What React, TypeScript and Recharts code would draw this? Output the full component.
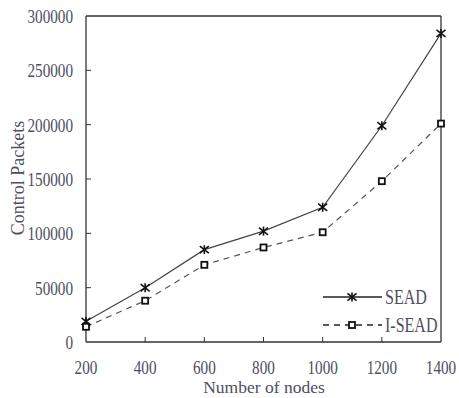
import { Line, LineChart, ReferenceLine, XAxis, YAxis } from "recharts";

const NODES = [200, 400, 600, 800, 1000, 1200, 1400];
const SEAD = [19000, 50000, 85000, 102000, 124000, 199000, 284000];
const I_SEAD = [14000, 38000, 71000, 87000, 101000, 148000, 201000];
const Y_TICKS = [0, 50000, 100000, 150000, 200000, 250000, 300000];

const data = NODES.map((n, i) => ({ nodes: n, sead: SEAD[i], isead: I_SEAD[i] }));

const FONT = "'Liberation Serif', 'DejaVu Serif', serif";
const TEXT = "#4e4e60";
const AXIS = "#333";

function StarDot({ cx, cy }: { cx?: number; cy?: number }) {
  if (cx == null || cy == null) return null;
  const r = 4.5;
  return (
    <g stroke="#111" strokeWidth={1.6}>
      <line x1={cx} y1={cy - r} x2={cx} y2={cy + r} />
      <line x1={cx - r} y1={cy - r * 0.8} x2={cx + r} y2={cy + r * 0.8} />
      <line x1={cx - r} y1={cy + r * 0.8} x2={cx + r} y2={cy - r * 0.8} />
    </g>
  );
}

function SquareDot({ cx, cy }: { cx?: number; cy?: number }) {
  if (cx == null || cy == null) return null;
  return <rect x={cx - 3} y={cy - 3} width={6} height={6} fill="#fff" stroke="#111" strokeWidth={1.8} />;
}

// the source font is a narrow serif, so squeeze Liberation Serif a bit
function Narrow({ x, y, anchor, size, children }: { x: number; y: number; anchor: string; size: number; children: any }) {
  return (
    <g transform={`translate(${x},${y}) scale(0.8,1)`}>
      <text x={0} y={0} textAnchor={anchor} fontFamily={FONT} fontSize={size} fill={TEXT}>
        {children}
      </text>
    </g>
  );
}

function YTick({ x, y, payload }: { x: number; y: number; payload: { value: number } }) {
  const ax = x + 13;
  return (
    <g>
      <Narrow x={x} y={y + 7} anchor="end" size={19}>
        {payload.value}
      </Narrow>
      {payload.value !== 0 && payload.value !== 300000 ? (
        <line x1={ax} x2={ax + 5} y1={y} y2={y} stroke={AXIS} />
      ) : null}
    </g>
  );
}

function XTick({ x, y, payload }: { x: number; y: number; payload: { value: number } }) {
  const ay = y - 20;
  return (
    <g>
      <Narrow x={x} y={y + 12} anchor="middle" size={19}>
        {payload.value}
      </Narrow>
      {payload.value !== 200 && payload.value !== 1400 ? (
        <line x1={x} x2={x} y1={ay} y2={ay - 5} stroke={AXIS} />
      ) : null}
    </g>
  );
}

function Overlay() {
  const rows = [
    { name: "SEAD", dash: undefined, Dot: StarDot },
    { name: "I-SEAD", dash: "6 5", Dot: SquareDot },
  ];
  return (
    <svg width={459} height={398} style={{ position: "absolute", left: 0, top: 0, pointerEvents: "none" }}>
      {rows.map((r, i) => {
        const y = 297 + i * 28;
        return (
          <g key={r.name}>
            <line x1={323} x2={382} y1={y} y2={y} stroke="#222" strokeWidth={1.3} strokeDasharray={r.dash} />
            <r.Dot cx={352} cy={y} />
            <Narrow x={385} y={y + 7} anchor="start" size={20}>
              {r.name}
            </Narrow>
          </g>
        );
      })}
      <text x={264} y={393} textAnchor="middle" fontFamily={FONT} fontSize={17.5} fill={TEXT}>
        Number of nodes
      </text>
      <text
        transform="translate(24,178) rotate(-90)"
        textAnchor="middle"
        fontFamily={FONT}
        fontSize={18}
        fill={TEXT}
      >
        Control Packets
      </text>
    </svg>
  );
}

export default function App() {
  return (
    <div style={{ position: "absolute", left: 0, top: 0, width: 459, height: 398, background: "#fff" }}>
      <LineChart width={459} height={398} data={data} margin={{ top: 16, right: 18, bottom: 0, left: 0 }}>
        <XAxis
          dataKey="nodes"
          type="number"
          domain={[200, 1400]}
          ticks={NODES}
          height={56}
          axisLine={{ stroke: AXIS, strokeWidth: 1.3 }}
          tickLine={false}
          tickSize={0}
          tickMargin={20}
          tick={XTick}
        />
        <YAxis
          domain={[0, 300000]}
          ticks={Y_TICKS}
          width={86}
          axisLine={{ stroke: AXIS, strokeWidth: 1.3 }}
          tickLine={false}
          tickSize={0}
          tickMargin={13}
          tick={YTick}
        />
        <ReferenceLine y={300000} stroke={AXIS} strokeWidth={1.3} />
        <ReferenceLine x={1400} stroke={AXIS} strokeWidth={1.3} />
        <Line
          dataKey="sead"
          stroke="#444"
          strokeWidth={1.2}
          dot={StarDot}
          isAnimationActive={false}
        />
        <Line
          dataKey="isead"
          stroke="#555"
          strokeWidth={1.2}
          strokeDasharray="6 5"
          dot={SquareDot}
          isAnimationActive={false}
        />
      </LineChart>
      <Overlay />
    </div>
  );
}
